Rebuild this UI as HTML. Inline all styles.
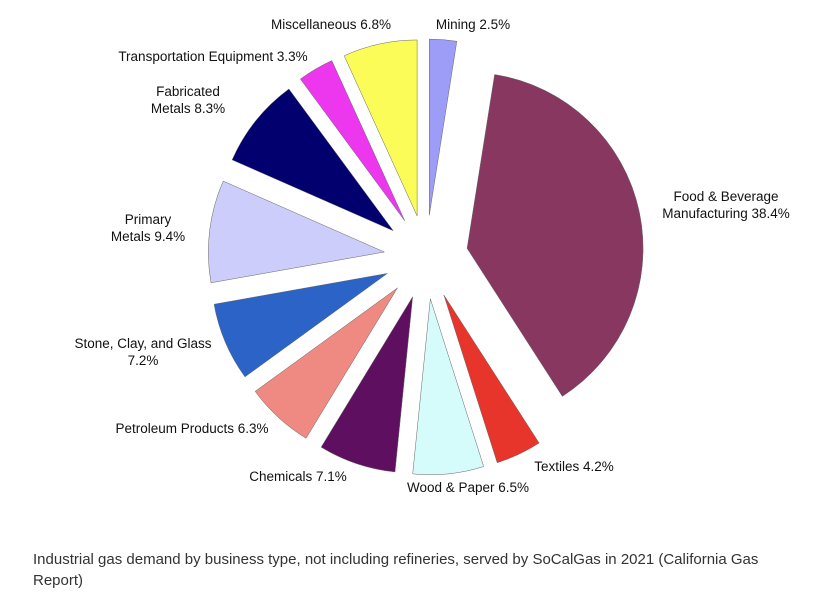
<!DOCTYPE html>
<html><head><meta charset="utf-8">
<style>
body{margin:0;background:#fff;width:817px;height:608px;overflow:hidden;font-family:"Liberation Sans",sans-serif}
svg text{font-family:"Liberation Sans",sans-serif;font-size:13.5px;fill:#111}
.cap{position:absolute;left:33px;top:549px;width:770px;font-size:15px;line-height:21px;color:#333}
</style></head><body>
<svg width="817" height="540" id="chart"></svg>
<div class="cap">Industrial gas demand by business type, not including refineries, served by SoCalGas in 2021 (California Gas Report)</div>
<script>
const categories=["Mining","Food & Beverage Manufacturing","Textiles","Wood & Paper","Chemicals","Petroleum Products","Stone, Clay, and Glass","Primary Metals","Fabricated Metals","Transportation Equipment","Miscellaneous"];
const values=[2.5,38.4,4.2,6.5,7.1,6.3,7.2,9.4,8.3,3.3,6.8];
const colors=["#9d9cf7","#883760","#e8352b","#d6fbfb","#5e0f60","#ef8a82","#2b63c6","#cccdfa","#02006f","#ec37ee","#fbfc57"];
const labels=[
 [["Mining  2.5%"],473,29,"middle"],
 [["Food & Beverage","Manufacturing 38.4%"],726,201,"middle"],
 [["Textiles 4.2%"],574,471,"middle"],
 [["Wood & Paper  6.5%"],468,492,"middle"],
 [["Chemicals 7.1%"],298,481,"middle"],
 [["Petroleum Products 6.3%"],192,433,"middle"],
 [["Stone, Clay, and Glass","7.2%"],143,348,"middle"],
 [["Primary","Metals 9.4%"],148,224,"middle"],
 [["Fabricated","Metals 8.3%"],188,96,"middle"],
 [["Transportation Equipment 3.3%"],213,61,"middle"],
 [["Miscellaneous 6.8%"],331,29,"middle"]
];
const svg=document.getElementById('chart');
const NS="http://www.w3.org/2000/svg";
const cx=426,cy=257,r=176,ex=42;
const total=values.reduce((a,b)=>a+b,0);
let a0=0;
function pt(ang,rad,ox,oy){return [ox+rad*Math.sin(ang),oy-rad*Math.cos(ang)];}
values.forEach((v,i)=>{
  const a1=a0+v/total*2*Math.PI;
  const am=(a0+a1)/2;
  const ox=cx+ex*Math.sin(am),oy=cy-ex*Math.cos(am);
  const p0=pt(a0,r,ox,oy),p1=pt(a1,r,ox,oy);
  const large=(a1-a0)>Math.PI?1:0;
  const p=document.createElementNS(NS,'path');
  p.setAttribute('d',`M${ox},${oy}L${p0[0]},${p0[1]}A${r},${r} 0 ${large} 1 ${p1[0]},${p1[1]}Z`);
  p.setAttribute('fill',colors[i]);
  p.setAttribute('stroke','#666');
  p.setAttribute('stroke-width','0.5');
  
  
  svg.appendChild(p);
  a0=a1;
});
labels.forEach((l,i)=>{
  const t=document.createElementNS(NS,'text');
  t.setAttribute('x',l[1]);t.setAttribute('y',l[2]);
  t.setAttribute('text-anchor',l[3]);
  
  
  l[0].forEach((s,j)=>{
    const ts=document.createElementNS(NS,'tspan');
    ts.setAttribute('x',l[1]);ts.setAttribute('dy',j?17:0);
    ts.textContent=s;t.appendChild(ts);
  });
  svg.appendChild(t);
});
</script>
</body></html>
